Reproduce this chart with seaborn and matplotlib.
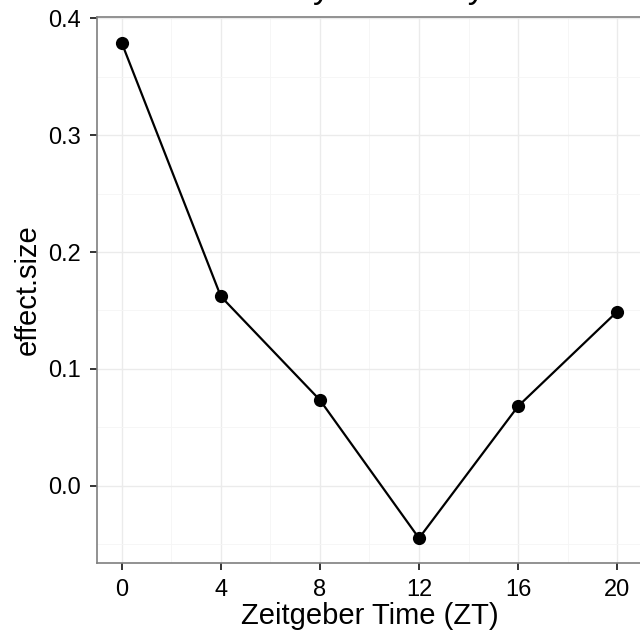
import seaborn as sns
import matplotlib.pyplot as plt
from matplotlib.ticker import MultipleLocator
import pandas as pd

zt = [0, 4, 8, 12, 16, 20]
effect_size = [0.379, 0.162, 0.0733, -0.045, 0.068, 0.149]

df = pd.DataFrame({"ZT": zt, "effect.size": effect_size})

sns.set_theme(style="white")
plt.rcParams["font.family"] = ["Liberation Sans", "DejaVu Sans"]

f = plt.figure(figsize=(6.4, 6.42), dpi=100)
ax = f.add_axes([0.1516, 0.123, 0.8514, 0.8505])

sns.lineplot(
    ax=ax,
    data=df,
    x="ZT",
    y="effect.size",
    color="black",
    linewidth=1.6,
    marker="o",
    markersize=9.5,
    markeredgewidth=0,
)

ax.set_xlim(-1, 21)
ax.set_ylim(-0.06625, 0.40125)
ax.xaxis.set_major_locator(MultipleLocator(4))
ax.xaxis.set_minor_locator(MultipleLocator(2))
ax.yaxis.set_major_locator(MultipleLocator(0.1))
ax.yaxis.set_minor_locator(MultipleLocator(0.05))
ax.set_yticks([0.0, 0.1, 0.2, 0.3, 0.4])
ax.set_yticklabels(["0.0", "0.1", "0.2", "0.3", "0.4"])

ax.grid(which="major", color="#ebebeb", linewidth=1.0)
ax.grid(which="minor", color="#f5f5f5", linewidth=0.6)
ax.set_axisbelow(True)

for s in ax.spines.values():
    s.set_color("#7f7f7f")
    s.set_linewidth(1.2)

ax.tick_params(axis="both", which="major", direction="out", length=5,
               width=1.4, color="#333333", labelsize=17, labelcolor="black",
               bottom=True, left=True, pad=6.5)
ax.tick_params(axis="both", which="minor", length=0)

ax.set_xlabel("Zeitgeber Time (ZT)", fontsize=21, color="black", labelpad=1)
ax.set_ylabel("effect.size", fontsize=21, color="black", labelpad=5)
ax.set_title("Daily variability", fontsize=25, color="black", pad=13.5)

plt.savefig("out.png", dpi=100)
